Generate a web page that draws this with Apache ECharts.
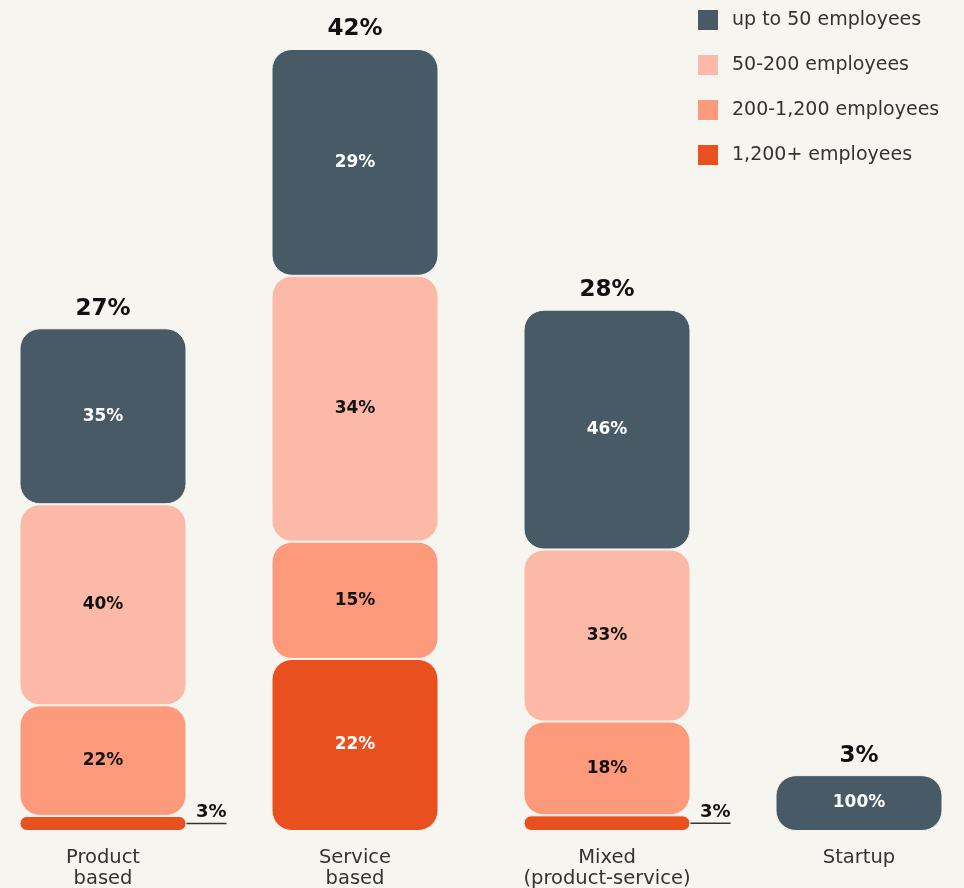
<!DOCTYPE html>
<html>
<head>
<meta charset="utf-8">
<style>
  html, body { margin: 0; padding: 0; background: #f7f5f0; }
  #chart { width: 964px; height: 888px; }
</style>
<script src="https://cdn.jsdelivr.net/npm/echarts@6/dist/echarts.min.js"></script>
</head>
<body>
<div id="chart"></div>
<script>
// Company types and the share of respondents in each type
const categories = ['Product\nbased', 'Service\nbased', 'Mixed\n(product-service)', 'Startup'];
const totals = [27, 42, 28, 3];

// Company size split within each type (percent of that type)
const sizeNames = ['up to 50 employees', '50-200 employees', '200-1,200 employees', '1,200+ employees'];
const upTo50 = [35, 29, 46, 100];
const from50to200 = [40, 34, 33, 0];
const from200to1200 = [22, 15, 18, 0];
const over1200 = [3, 22, 3, 0];

const sizeShares = [upTo50, from50to200, from200to1200, over1200];
const colors = ['#475a66', '#fdb9a7', '#fd9a7b', '#e9501f'];
const labelColors = ['#ffffff', '#111111', '#111111', '#ffffff'];
const BG = '#f7f5f0';
const FONT = '"DejaVu Sans", sans-serif';
const BAR_W = 167;

const chart = echarts.init(document.getElementById('chart'), null, { renderer: 'canvas' });

// Each size segment is drawn as its share of the category total;
// the largest companies sit at the bottom of every stack.
const sizeSeries = sizeShares.map((shares, si) => ({
  name: sizeNames[si],
  type: 'bar',
  stack: 'size',
  barWidth: BAR_W,
  itemStyle: {
    color: colors[si],
    borderRadius: 20,
    borderColor: BG,
    borderWidth: 1
  },
  label: {
    show: true,
    position: 'inside',
    color: labelColors[si],
    fontFamily: FONT,
    fontWeight: 'bold',
    fontSize: 17,
    formatter: p => p.data.share + '%'
  },
  data: shares.map((share, ci) => {
    const item = { value: totals[ci] * share / 100, share: share };
    if (share === 0) {
      item.label = { show: false };
    } else if (share < 5) {
      // thin segment: label sits to the right over a leader line
      item.label = {
        show: true,
        position: 'right',
        distance: 0,
        offset: [0, -10],
        formatter: '{v|' + share + '%}\n{l|}',
        rich: {
          v: { fontFamily: FONT, fontWeight: 'bold', fontSize: 18, color: '#111', align: 'right', lineHeight: 20 },
          l: { width: 40, height: 1.5, backgroundColor: '#333', align: 'right' }
        }
      };
    }
    return item;
  })
})).reverse();

// Transparent overlay carrying the category totals above each stack
const totalSeries = {
  name: 'total',
  type: 'bar',
  barWidth: BAR_W,
  barGap: '-100%',
  silent: true,
  itemStyle: { color: 'rgba(0,0,0,0)' },
  label: {
    show: true,
    position: 'top',
    distance: 8,
    color: '#111',
    fontFamily: FONT,
    fontWeight: 'bold',
    fontSize: 23,
    formatter: p => p.value + '%'
  },
  z: 1,
  data: totals
};

chart.setOption({
  backgroundColor: BG,
  animation: false,
  legend: {
    data: sizeNames,
    orient: 'vertical',
    left: 696,
    top: 8,
    padding: 0,
    itemWidth: 22,
    itemHeight: 22,
    itemGap: 21,
    icon: 'rect',
    selectedMode: false,
    textStyle: { fontFamily: FONT, fontSize: 19, color: '#333', padding: [0, 0, 0, 8], lineHeight: 22 }
  },
  grid: { left: -23, right: -21, top: 49, bottom: 57, containLabel: false, outerBoundsMode: 'none' },
  xAxis: {
    type: 'category',
    data: categories,
    axisLine: { show: false },
    axisTick: { show: false },
    axisLabel: { fontFamily: FONT, fontSize: 19.5, color: '#333', lineHeight: 21, margin: 16 }
  },
  yAxis: {
    type: 'value',
    min: 0,
    max: 42,
    show: false,
    splitLine: { show: false }
  },
  series: [...sizeSeries, totalSeries]
});
</script>
</body>
</html>
